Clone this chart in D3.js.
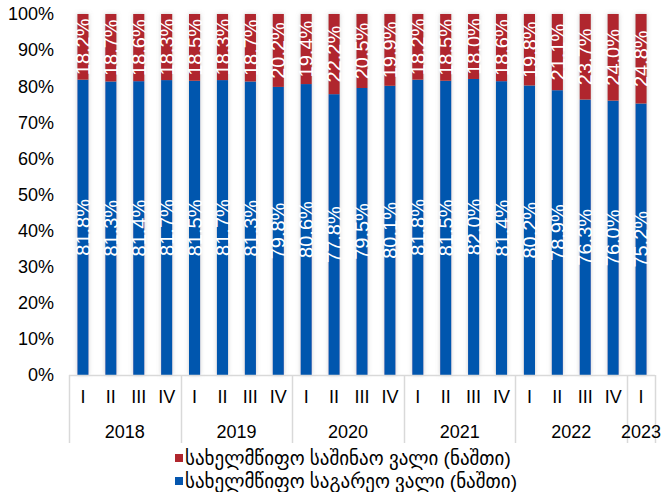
<!DOCTYPE html>
<html><head><meta charset="utf-8">
<script src="https://cdn.jsdelivr.net/npm/d3@7"></script>
<style>
html,body{margin:0;padding:0;background:#fff;}
svg{display:block;font-family:"Liberation Sans",Arial,"DejaVu Sans",sans-serif;}
</style></head>
<body>
<svg id="c" width="663" height="492"></svg>
<script>
const quarters = ["I","II","III","IV","I","II","III","IV","I","II","III","IV","I","II","III","IV","I","II","III","IV","I"];
const years = ["2018","2019","2020","2021","2022","2023"];
const yearSizes = [4,4,4,4,4,1];
const domestic = [18.2,18.7,18.6,18.3,18.5,18.3,18.7,20.2,19.4,22.2,20.5,19.9,18.2,18.5,18.0,18.6,19.8,21.1,23.7,24.0,24.8];
const external = [81.8,81.3,81.4,81.7,81.5,81.7,81.3,79.8,80.6,77.8,79.5,80.1,81.8,81.5,82.0,81.4,80.2,78.9,76.3,76.0,75.2];
const yTicks = [0,10,20,30,40,50,60,70,80,90,100];
const legendLabels = ["სახელმწიფო საშინაო ვალი (ნაშთი)","სახელმწიფო საგარეო ვალი (ნაშთი)"];

const RED = "#B0262D", BLUE = "#0556AE";
const svg = d3.select("#c");
const pLeft = 69, pRight = 655, pTop = 14, pBottom = 375;
const x = d3.scaleBand().domain(d3.range(quarters.length)).range([pLeft, pRight]).paddingInner(0.6).paddingOuter(0.3);
const y = d3.scaleLinear().domain([0,100]).range([pBottom, pTop]);

const defs = svg.append("defs");
const f = defs.append("filter").attr("id","sh").attr("x","-60%").attr("y","-5%").attr("width","220%").attr("height","110%");
f.append("feDropShadow").attr("dx",0).attr("dy",0).attr("stdDeviation",2).attr("flood-color","#999").attr("flood-opacity",0.5);

// y axis labels
svg.append("g").selectAll("text").data(yTicks).join("text")
  .attr("x", 54).attr("y", d => y(d)).attr("dy","0.35em")
  .attr("text-anchor","end").attr("font-size",18).attr("fill","#000")
  .text(d => d + "%");

// bars
const g = svg.append("g");
const bars = g.selectAll("g.bar").data(d3.range(quarters.length)).join("g").attr("class","bar").attr("filter","url(#sh)");
bars.append("rect").attr("x", i => x(i)).attr("width", x.bandwidth())
  .attr("y", i => y(external[i])).attr("height", i => y(0) - y(external[i])).attr("fill", BLUE);
bars.append("rect").attr("x", i => x(i)).attr("width", x.bandwidth())
  .attr("y", i => y(external[i] + domestic[i])).attr("height", i => y(external[i]) - y(external[i] + domestic[i])).attr("fill", RED);

// value labels
const lbl = svg.append("g").attr("fill","#fff").attr("font-size",20);
lbl.selectAll("text.e").data(d3.range(quarters.length)).join("text").attr("class","e")
  .attr("transform", i => `translate(${x(i)+x.bandwidth()/2},${(y(0)+y(external[i]))/2}) rotate(-90)`)
  .attr("text-anchor","middle").attr("dy","0.36em")
  .text(i => external[i].toFixed(1) + "%");
lbl.selectAll("text.d").data(d3.range(quarters.length)).join("text").attr("class","d")
  .attr("transform", i => `translate(${x(i)+x.bandwidth()/2},${(y(external[i])+y(external[i]+domestic[i]))/2}) rotate(-90)`)
  .attr("text-anchor","middle").attr("dy","0.36em")
  .text(i => domestic[i].toFixed(1) + "%");

// x axis
const ax = svg.append("g");
ax.append("line").attr("x1", pLeft).attr("x2", pRight).attr("y1", pBottom+0.5).attr("y2", pBottom+0.5).attr("stroke","#d9d9d9").attr("stroke-width",1.5);
const step = x.step();
let bounds = [0];
yearSizes.forEach(s => bounds.push(bounds[bounds.length-1] + s));
const bx = k => k >= quarters.length ? pRight : x(k) - step*x.paddingInner()/2;
ax.selectAll("line.sep").data(bounds).join("line").attr("class","sep")
  .attr("x1", k => Math.round(bx(k))+0.5).attr("x2", k => Math.round(bx(k))+0.5)
  .attr("y1", pBottom).attr("y2", 443).attr("stroke","#d9d9d9").attr("stroke-width",1.5);
ax.selectAll("text.q").data(d3.range(quarters.length)).join("text").attr("class","q")
  .attr("x", i => x(i) + x.bandwidth()/2).attr("y", 397).attr("dy","0.35em")
  .attr("text-anchor","middle").attr("font-size",18).text(i => quarters[i]);
ax.selectAll("text.yr").data(years).join("text").attr("class","yr")
  .attr("x", (d,j) => (bx(bounds[j]) + bx(bounds[j+1]))/2).attr("y", 432).attr("dy","0.35em")
  .attr("text-anchor","middle").attr("font-size",18).text(d => d);

// legend
const leg = svg.append("g");
const legColors = [RED, BLUE];
const legY = [458, 481];
legendLabels.forEach((t, j) => {
  leg.append("rect").attr("x", 175).attr("y", legY[j]-4).attr("width", 8).attr("height", 8).attr("fill", legColors[j]);
  leg.append("text").attr("x", 185).attr("y", legY[j]).attr("dy","0.35em").attr("font-size",19).text(t);
});
</script>
</body></html>
